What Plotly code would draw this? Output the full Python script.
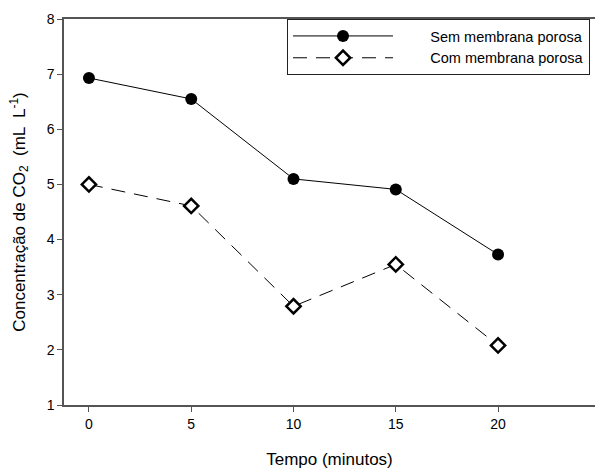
import plotly.graph_objects as go

tempo = [0, 5, 10, 15, 20]
sem_membrana = [6.93, 6.55, 5.10, 4.91, 3.73]
com_membrana = [5.00, 4.61, 2.79, 3.55, 2.08]
x_ticks = [0, 5, 10, 15, 20]
y_ticks = [1, 2, 3, 4, 5, 6, 7, 8]

fig = go.Figure()
fig.add_trace(go.Scatter(
    x=tempo, y=sem_membrana, mode="lines+markers", name="        Sem membrana porosa",
    line=dict(color="black", width=1),
    marker=dict(symbol="circle", size=12, color="black"),
))
fig.add_trace(go.Scatter(
    x=tempo, y=com_membrana, mode="lines+markers", name="        Com membrana porosa",
    line=dict(color="black", width=1, dash="14px,9px"),
    marker=dict(symbol="diamond", size=11, color="white", line=dict(color="black", width=2.5)),
))

axis_color = "#555555"
fig.update_layout(
    width=595, height=469,
    margin=dict(l=64, r=0, t=19, b=64),
    plot_bgcolor="white", paper_bgcolor="white",
    font=dict(family="Liberation Sans, Arial, sans-serif", color="black", size=14),
    showlegend=True,
    legend=dict(
        x=0.42, y=1, xanchor="left", yanchor="top",
        bordercolor="#222222", borderwidth=1, bgcolor="white",
        font=dict(size=14.5), itemwidth=100, tracegroupgap=0,
    ),
    xaxis=dict(
        range=[-1.22, 24.74], tickvals=x_ticks, ticks="outside", ticklen=5,
        tickfont=dict(size=14),
        tickcolor=axis_color, showline=True, linecolor=axis_color, linewidth=1.5,
        mirror=True, showgrid=False, zeroline=False,
        title=dict(text="Tempo (minutos)", font=dict(size=17), standoff=23),
    ),
    yaxis=dict(
        range=[1, 8], tickvals=y_ticks, ticks="outside", ticklen=5,
        tickfont=dict(size=14),
        tickcolor=axis_color, showline=True, linecolor=axis_color, linewidth=1.5,
        showgrid=False, zeroline=False,
        title=dict(text="Concentração de CO<sub>2</sub>  (mL  L<sup>-1</sup>)", font=dict(size=17), standoff=17),
    ),
)

fig.write_html("out.html", config={"displayModeBar": False},
               post_script="document.body.style.margin='0';")
